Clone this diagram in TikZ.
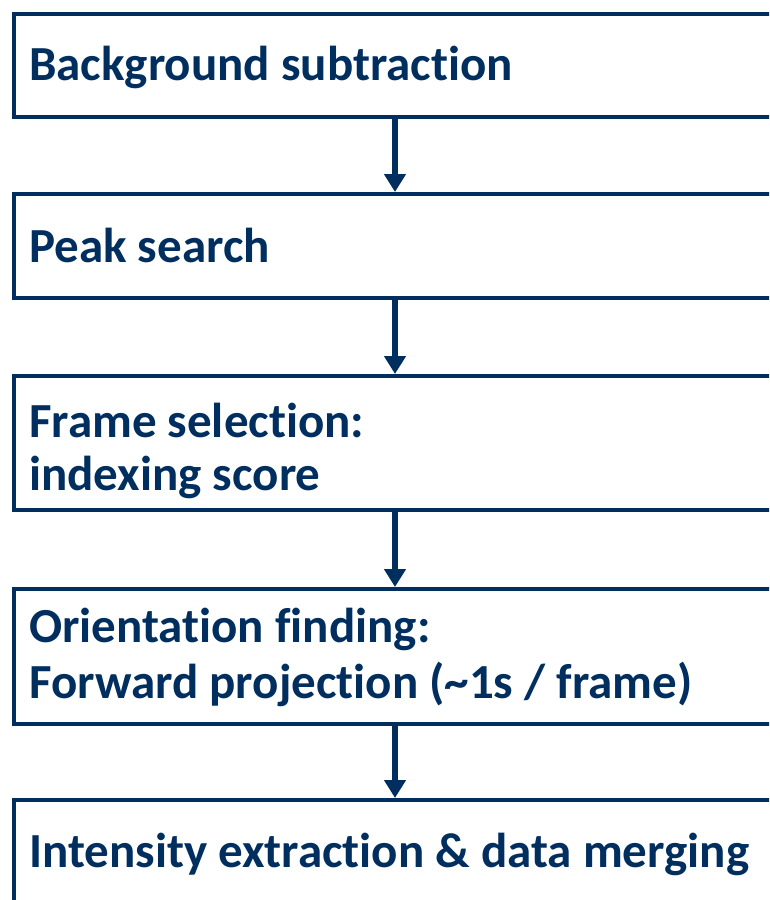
\documentclass[tikz,border=0pt]{standalone}
\usepackage{fontspec}
\setmainfont{Carlito}[Ligatures={NoCommon,NoRequired,NoContextual}]
\usetikzlibrary{arrows.meta}
\definecolor{navy}{RGB}{0,47,95}
\begin{document}
\begin{tikzpicture}[x=1pt,y=-1pt,
  stage/.style={draw=navy,line width=4pt,minimum width=762pt,anchor=north west,inner sep=0pt},
  steptext/.style={anchor=base west,inner sep=0pt,text=navy,font=\fontsize{49}{57}\selectfont\bfseries},
  flow/.style={draw=navy,line width=5.5pt,-{Triangle[width=21pt,length=18pt]}}]
\useasboundingbox (0,0) rectangle (769,900);
\clip (0,0) rectangle (769,900);
% processing stages
\node[stage,minimum height=103pt] (b1) at (12,12) {};
\node[stage,minimum height=104pt] (b2) at (12,192) {};
\node[stage,minimum height=134pt] (b3) at (12,374) {};
\node[stage,minimum height=135pt] (b4) at (12,587) {};
\node[stage,minimum height=134pt] (b5) at (12,798) {};
% stage titles
\node[steptext] (t1) at (29,80) {Background subtraction};
\node[steptext] (t2) at (29,262) {Peak search};
\node[steptext] (t3a) at (29,437) {Frame selection:};
\node[steptext] (t3b) at (29,490) {indexing score};
\node[steptext] (t4a) at (29,642) {Orientation finding:};
\node[steptext] (t4b) at (29,698) {Forward projection (\textasciitilde 1s / frame)};
\node[steptext] (t5) at (29,867) {Intensity extraction \& data merging};
% flow between stages
\draw[flow] (b1.south) -- (b2.north);
\draw[flow] (b2.south) -- (b3.north);
\draw[flow] (b3.south) -- (b4.north);
\draw[flow] (b4.south) -- (b5.north);
\end{tikzpicture}
\end{document}
